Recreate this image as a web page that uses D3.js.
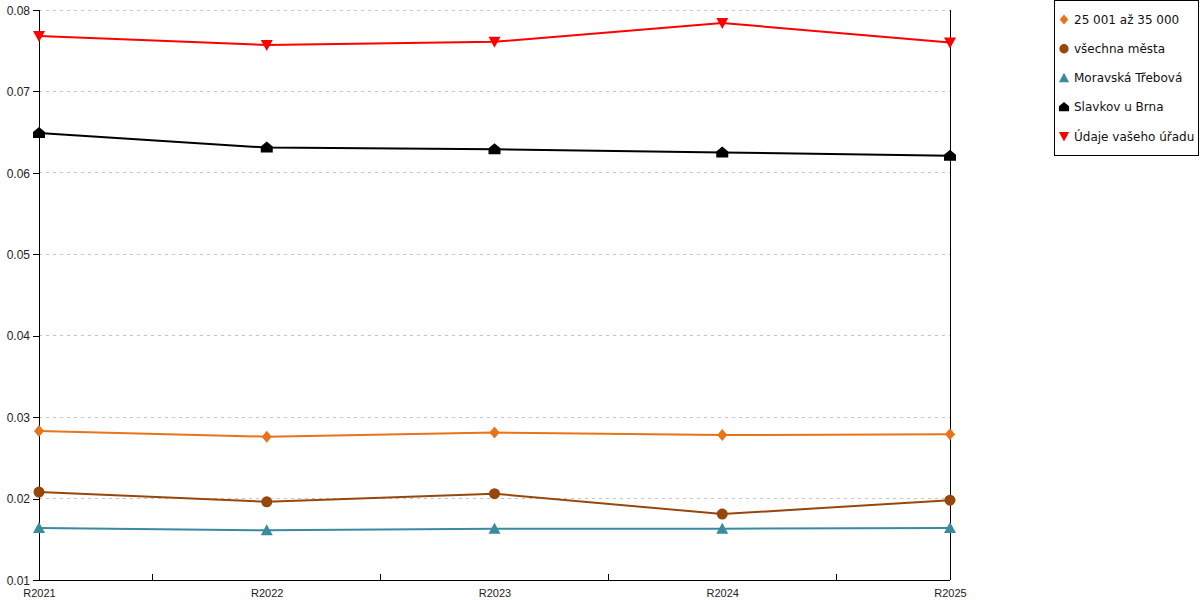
<!DOCTYPE html>
<html lang="cs">
<head>
  <meta charset="utf-8">
  <title>Srovnání</title>
  <style>
    body { margin: 0; background: #fff; font-family: "DejaVu Sans", Verdana, sans-serif; }
    .grid line { stroke: #c4c4c4; stroke-dasharray: 3,4; shape-rendering: crispEdges; }
    .axis path, .axis line { shape-rendering: crispEdges; }
    .axis text { font-size: 12px; fill: #222; }
    .legend text { font-size: 12px; fill: #111; }
  </style>
</head>
<body>
  <svg id="chart" width="1200" height="600"></svg>

  <script src="https://d3js.org/d3.v7.min.js"></script>
  <script>
    // categories and series values
    const years = ["R2021", "R2022", "R2023", "R2024", "R2025"];
    const yTicks = [0.01, 0.02, 0.03, 0.04, 0.05, 0.06, 0.07, 0.08];

    const seriesNames = ["25 001 až 35 000", "všechna města", "Moravská Třebová", "Slavkov u Brna", "Údaje vašeho úřadu"];
    const vel25 = [0.0283, 0.0276, 0.0281, 0.0278, 0.0279];
    const vsechna = [0.0208, 0.0196, 0.0206, 0.0181, 0.0198];
    const moravska = [0.0164, 0.0161, 0.0163, 0.0163, 0.0164];
    const slavkov = [0.0649, 0.0631, 0.0629, 0.0625, 0.0621];
    const urad = [0.0768, 0.0757, 0.0761, 0.0784, 0.0760];

    const colors = ["#e8731a", "#96470c", "#3a8aa0", "#000000", "#ff0000"];
    const shapes = ["diamond", "circle", "triUp", "house", "triDown"];

    const series = [vel25, vsechna, moravska, slavkov, urad].map((values, i) => ({
      name: seriesNames[i], values, color: colors[i], shape: shapes[i]
    }));

    const margin = { left: 39, right: 250, top: 10, bottom: 20 };
    const width = 1200, height = 600;

    const x = d3.scalePoint().domain(years).range([margin.left, width - margin.right]);
    const y = d3.scaleLinear().domain([0.01, 0.08]).range([height - margin.bottom, margin.top]);

    const svg = d3.select("#chart");

    // marker paths centred on 0,0
    function markerPath(shape) {
      const p = d3.path();
      if (shape === "diamond") {
        p.moveTo(0, -6); p.lineTo(5, 0); p.lineTo(0, 6); p.lineTo(-5, 0); p.closePath();
      } else if (shape === "circle") {
        p.arc(0, 0, 5.5, 0, 2 * Math.PI);
      } else if (shape === "triUp") {
        p.moveTo(0, -6); p.lineTo(6, 5); p.lineTo(-6, 5); p.closePath();
      } else if (shape === "triDown") {
        p.moveTo(-6, -5); p.lineTo(6, -5); p.lineTo(0, 6); p.closePath();
      } else if (shape === "house") {
        p.moveTo(0, -6); p.lineTo(6, -1); p.lineTo(6, 5); p.lineTo(-6, 5); p.lineTo(-6, -1); p.closePath();
      }
      return p.toString();
    }

    // grid
    svg.append("g").attr("class", "grid")
      .selectAll("line")
      .data(yTicks.slice(1))
      .join("line")
      .attr("x1", margin.left).attr("x2", width - margin.right)
      .attr("y1", d => y(d)).attr("y2", d => y(d));

    // left axis
    svg.append("g").attr("class", "axis")
      .attr("transform", `translate(${margin.left},0)`)
      .call(d3.axisLeft(y).tickValues(yTicks).tickFormat(d3.format(".2f")).tickSize(6).tickPadding(3))
      .call(g => g.select(".domain").attr("stroke", "#000"))
      .call(g => g.selectAll(".tick text").attr("dy", "0.35em"));

    // bottom axis: labels at categories, ticks between them
    const step = x.step();
    svg.append("g").attr("class", "axis")
      .attr("transform", `translate(0,${height - margin.bottom})`)
      .call(d3.axisBottom(x).tickSize(0).tickPadding(9))
      .call(g => g.select(".domain").attr("stroke", "#000").attr("d", `M${margin.left},0H${width - margin.right}`))
      .call(g => g.selectAll(".tick text").style("font-size", "11px"));

    svg.append("g").attr("class", "axis")
      .attr("transform", `translate(0,${height - margin.bottom})`)
      .selectAll("line")
      .data(years.slice(0, -1))
      .join("line")
      .attr("x1", d => x(d) + step / 2).attr("x2", d => x(d) + step / 2)
      .attr("y1", 0).attr("y2", -6)
      .attr("stroke", "#000");

    // right border
    svg.append("g").attr("class", "axis").append("line")
      .attr("x1", width - margin.right).attr("x2", width - margin.right)
      .attr("y1", margin.top).attr("y2", height - margin.bottom)
      .attr("stroke", "#000");

    // lines
    const line = d3.line()
      .x((d, i) => x(years[i]))
      .y(d => y(d));

    const sg = svg.append("g").selectAll("g").data(series).join("g");

    sg.append("path")
      .attr("d", d => line(d.values))
      .attr("fill", "none")
      .attr("stroke", d => d.color)
      .attr("stroke-width", 2);

    sg.each(function(s) {
      d3.select(this).selectAll("path.m")
        .data(s.values)
        .join("path")
        .attr("class", "m")
        .attr("d", markerPath(s.shape))
        .attr("fill", s.color)
        .attr("transform", (d, i) => `translate(${x(years[i])},${y(d)})`);
    });

    // legend
    const lg = svg.append("g").attr("class", "legend");
    lg.append("rect")
      .attr("x", 1054.5).attr("y", 0.5)
      .attr("width", 144).attr("height", 155)
      .attr("fill", "#fff").attr("stroke", "#000");

    const item = lg.selectAll("g.item").data(series).join("g")
      .attr("class", "item")
      .attr("transform", (d, i) => `translate(1064,${19.5 + i * 29.2})`);

    item.append("path")
      .attr("d", d => markerPath(d.shape))
      .attr("fill", d => d.color)
      .attr("transform", "scale(0.85)");

    item.append("text")
      .attr("x", 10).attr("dy", "0.35em")
      .text(d => d.name);
  </script>
</body>
</html>
